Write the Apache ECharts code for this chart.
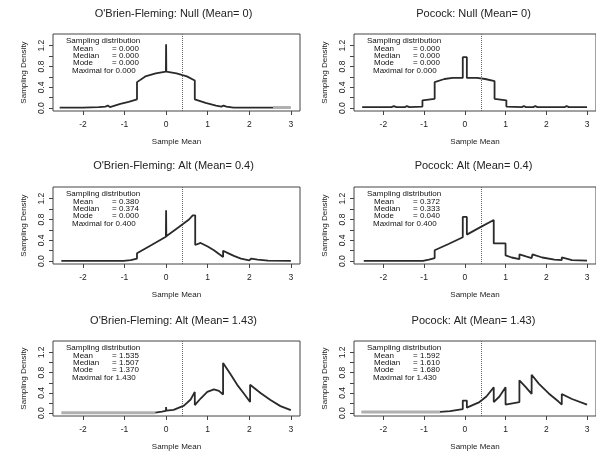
<!DOCTYPE html>
<html><head><meta charset="utf-8">
<script src="https://cdn.jsdelivr.net/npm/echarts@6/dist/echarts.min.js"></script>
<style>html,body{margin:0;padding:0;background:#fff}#c{width:596px;height:452px}</style>
</head><body><div id="c"></div>
<script>
// ---- data ----
const titles = [
  "O'Brien-Fleming: Null (Mean= 0)", "Pocock: Null (Mean= 0)",
  "O'Brien-Fleming: Alt (Mean= 0.4)", "Pocock: Alt (Mean= 0.4)",
  "O'Brien-Fleming: Alt (Mean= 1.43)", "Pocock: Alt (Mean= 1.43)"
];
const statNames = ["Mean", "Median", "Mode"];
const statMean   = ["0.000", "0.000", "0.380", "0.372", "1.535", "1.592"];
const statMedian = ["0.000", "0.000", "0.374", "0.333", "1.507", "1.610"];
const statMode   = ["0.000", "0.000", "0.000", "0.040", "1.370", "1.680"];
const maximalFor = ["0.000", "0.000", "0.400", "0.400", "1.430", "1.430"];
const xTicks = [-2, -1, 0, 1, 2, 3];
const yTicks = [0, 0.2, 0.4, 0.6, 0.8, 1.0, 1.2];
const yLabels = [0, 0.4, 0.8, 1.2];
const refLine = 0.4;

// Panel 1: O'Brien-Fleming, Null
const obfNullX = [-2.56,-2.0,-1.62,-1.46,-1.40,-1.35,-1.1,-0.9,-0.70,-0.70,-0.5,-0.25,-0.005,0,0.005,0.25,0.5,0.69,0.69,0.95,1.2,1.33,1.38,1.45,1.62,2.0,2.57];
const obfNullY = [0.01,0.01,0.02,0.03,0.05,0.02,0.08,0.12,0.17,0.50,0.61,0.67,0.70,1.23,0.70,0.67,0.61,0.53,0.17,0.10,0.05,0.03,0.05,0.03,0.01,0.01,0.01];
const obfNullGrayX = [2.57, 3.0];
const obfNullGrayY = [0.01, 0.01];

// Panel 2: Pocock, Null
const pocNullX = [-2.52,-1.8,-1.74,-1.68,-1.47,-1.42,-1.36,-1.04,-1.04,-0.74,-0.74,-0.5,-0.3,-0.05,-0.05,0.05,0.05,0.3,0.5,0.73,0.73,1.02,1.02,1.4,1.45,1.5,1.68,1.73,1.78,2.45,2.5,2.55,3.0];
const pocNullY = [0.02,0.02,0.04,0.02,0.02,0.04,0.02,0.03,0.15,0.18,0.50,0.56,0.58,0.58,0.98,0.98,0.58,0.58,0.56,0.52,0.18,0.15,0.03,0.02,0.04,0.02,0.02,0.04,0.02,0.02,0.04,0.02,0.02];

// Panel 3: O'Brien-Fleming, Alt 0.4
const obfAlt04X = [-2.52,-1.02,-0.85,-0.70,-0.70,-0.35,-0.005,0,0.005,0.3,0.55,0.64,0.70,0.70,0.83,1.0,1.15,1.37,1.37,1.5,1.63,1.8,2.0,2.05,2.2,2.45,3.0];
const obfAlt04Y = [0.005,0.005,0.02,0.05,0.15,0.31,0.47,0.98,0.48,0.65,0.80,0.88,0.88,0.31,0.35,0.28,0.21,0.08,0.20,0.15,0.10,0.05,0.015,0.05,0.03,0.01,0.005];

// Panel 4: Pocock, Alt 0.4
const pocAlt04X = [-2.48,-1.03,-0.88,-0.74,-0.74,-0.4,-0.05,-0.05,0.05,0.05,0.35,0.71,0.71,1.0,1.0,1.15,1.34,1.34,1.5,1.64,1.66,1.9,2.2,2.38,2.38,2.63,3.0];
const pocAlt04Y = [0.005,0.005,0.03,0.06,0.21,0.33,0.46,0.85,0.85,0.51,0.64,0.79,0.34,0.34,0.11,0.07,0.04,0.13,0.09,0.06,0.13,0.07,0.03,0.02,0.07,0.02,0.01];

// Panel 5: O'Brien-Fleming, Alt 1.43
const obfAlt143X = [-0.26,-0.1,-0.005,0,0.005,0.18,0.43,0.59,0.69,0.69,0.83,0.99,1.15,1.27,1.37,1.37,1.55,1.71,1.87,2.02,2.02,2.27,2.51,2.75,3.0];
const obfAlt143Y = [0.01,0.03,0.045,0.12,0.05,0.065,0.15,0.27,0.42,0.16,0.29,0.42,0.47,0.44,0.37,0.99,0.77,0.56,0.39,0.22,0.56,0.40,0.26,0.14,0.06];
const obfAlt143GrayX = [-2.52, -0.26];
const obfAlt143GrayY = [0.01, 0.01];

// Panel 6: Pocock, Alt 1.43
const pocAlt143X = [-0.61,-0.36,-0.05,-0.05,0.05,0.05,0.36,0.53,0.71,0.71,0.85,1.0,1.0,1.34,1.34,1.49,1.64,1.64,1.82,2.06,2.3,2.38,2.38,2.63,3.0];
const pocAlt143Y = [0.025,0.04,0.08,0.25,0.25,0.11,0.22,0.33,0.51,0.22,0.33,0.51,0.17,0.22,0.65,0.52,0.38,0.76,0.58,0.39,0.23,0.17,0.38,0.28,0.17];
const pocAlt143GrayX = [-2.54, -0.61];
const pocAlt143GrayY = [0.025, 0.025];

const mainX = [obfNullX, pocNullX, obfAlt04X, pocAlt04X, obfAlt143X, pocAlt143X];
const mainY = [obfNullY, pocNullY, obfAlt04Y, pocAlt04Y, obfAlt143Y, pocAlt143Y];
const grayX = [obfNullGrayX, null, null, null, obfAlt143GrayX, pocAlt143GrayX];
const grayY = [obfNullGrayY, null, null, null, obfAlt143GrayY, pocAlt143GrayY];

// ---- layout ----
const colLeft = [53, 354], colWidth = [247, 245];
const rowTop = [34, 187, 341], rowHeight = 77;
const titleY = [14, 165.5, 321];
const xMin = -2.72, xMax = 3.22, yMin = -0.055, yMax = 1.425;
const font = "Liberation Sans, Arial, sans-serif";
const lineCol = '#2a2a2a';

const zip = (a, b) => a.map((v, i) => [v, b[i]]);
const grids = [], xAxes = [], yAxes = [], series = [], graphics = [];
for (let i = 0; i < 6; i++) {
  const c = i % 2, r = Math.floor(i / 2);
  grids.push({left: colLeft[c], top: rowTop[r], width: colWidth[c], height: rowHeight,
    show: true, borderColor: '#444', borderWidth: 1, backgroundColor: 'transparent'});
  xAxes.push({type: 'value', gridIndex: i, min: xMin, max: xMax, position: 'bottom',
    axisLine: {show: false, onZero: false}, splitLine: {show: false},
    axisTick: {show: true, inside: false, length: 4, customValues: xTicks, lineStyle: {color: '#444'}},
    axisLabel: {customValues: xTicks, fontSize: 8.5, color: '#222', margin: 9, fontFamily: font},
    name: 'Sample Mean', nameLocation: 'middle', nameGap: 27,
    nameTextStyle: {fontSize: 8, color: '#222', fontFamily: font}});
  yAxes.push({type: 'value', gridIndex: i, min: yMin, max: yMax, position: 'left',
    axisLine: {show: false, onZero: false}, splitLine: {show: false},
    axisTick: {show: true, inside: false, length: 4, customValues: yTicks, lineStyle: {color: '#444'}},
    axisLabel: {customValues: yLabels, rotate: 90, fontSize: 8.5, color: '#222', margin: 7, fontFamily: font,
      formatter: v => v.toFixed(1)},
    name: 'Sampling Density', nameLocation: 'middle', nameGap: 25,
    nameTextStyle: {fontSize: 8, color: '#222', fontFamily: font}});
  series.push({type: 'line', xAxisIndex: i, yAxisIndex: i, data: zip(mainX[i], mainY[i]),
    showSymbol: false, symbol: 'none', lineStyle: {color: lineCol, width: 1.8}, z: 3,
    markLine: {silent: true, symbol: 'none', label: {show: false},
      lineStyle: {type: 'dotted', color: '#666', width: 1}, data: [{xAxis: refLine}]}});
  if (grayX[i]) {
    series.push({type: 'line', xAxisIndex: i, yAxisIndex: i, data: zip(grayX[i], grayY[i]),
      showSymbol: false, symbol: 'none', lineStyle: {color: '#b0b0b0', width: 3}, z: 2});
  }
  const cx = colLeft[c] + colWidth[c] / 2 - 3;
  graphics.push({type: 'text', x: cx, y: titleY[r], style: {text: titles[i], font: '11px ' + font,
    fill: '#222', align: 'center', verticalAlign: 'middle'}});
  const tx = colLeft[c] + 13, ty = rowTop[r] + 7, dy = 7.4;
  const lines = [["Sampling distribution", null, tx],
    [statNames[0], '= ' + statMean[i], tx + 7],
    [statNames[1], '= ' + statMedian[i], tx + 7],
    [statNames[2], '= ' + statMode[i], tx + 7],
    ["Maximal for " + maximalFor[i], null, tx + 6]];
  lines.forEach((ln, k) => {
    graphics.push({type: 'text', x: ln[2], y: ty + k * dy, style: {text: ln[0], font: '8px ' + font,
      fill: '#111', align: 'left', verticalAlign: 'middle'}});
    if (ln[1]) graphics.push({type: 'text', x: tx + 46, y: ty + k * dy, style: {text: ln[1], font: '8px ' + font,
      fill: '#111', align: 'left', verticalAlign: 'middle'}});
  });
}
const chart = echarts.init(document.getElementById('c'), null, {renderer: 'canvas'});
chart.setOption({animation: false, grid: grids, xAxis: xAxes, yAxis: yAxes, series: series, graphic: graphics});
</script></body></html>
